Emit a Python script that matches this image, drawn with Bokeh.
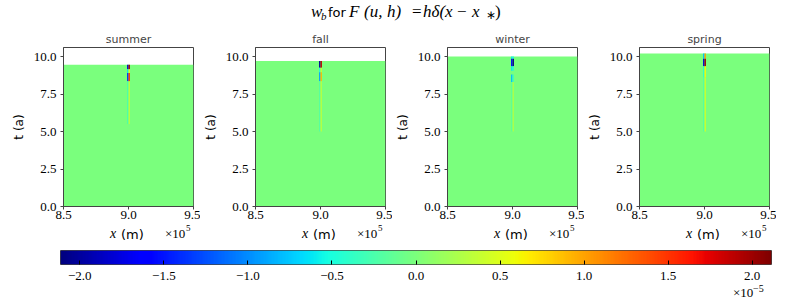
import numpy as np
from bokeh.plotting import figure
from bokeh.layouts import column, row, Spacer
from bokeh.models import (Range1d, LinearColorMapper, CustomJSTickFormatter,
                          ColumnDataSource, FixedTicker, Div)
from bokeh.embed import file_html
from bokeh.resources import INLINE

# ---------------- data ----------------
seasons = ["summer", "fall", "winter", "spring"]
t_end = [9.45, 9.7, 10.0, 10.2]          # last time of each run (a)
x_min, x_max = 8.5e5, 9.5e5              # domain (m)
x_ticks = [8.5e5, 9.0e5, 9.5e5]
t_ticks = [0.0, 2.5, 5.0, 7.5, 10.0]
w_lo, w_hi = -2.115e-5, 2.115e-5
cbar_ticks = [-2e-5, -1.5e-5, -1e-5, -0.5e-5, 0.0, 0.5e-5, 1e-5, 1.5e-5, 2e-5]

# the two cells of the grid next to x_* (left edge, right edge)
cell_left_x = [8.989e5, 9.0e5]
cell_right_x = [9.0e5, 9.011e5]

summer_t0 = [9.15, 8.9, 8.35, 5.5]
summer_t1 = [9.45, 9.15, 8.9, 8.35]
summer_wl = [-1.8e-5, -0.6e-5, -1.4e-5, -0.25e-5]
summer_wr = [2.0e-5, 0.5e-5, 1.5e-5, 0.3e-5]

fall_t0 = [9.25, 8.95, 8.35, 5.0]
fall_t1 = [9.7, 9.25, 8.95, 8.35]
fall_wl = [-2.0e-5, -0.5e-5, -0.9e-5, -0.2e-5]
fall_wr = [1.9e-5, 0.4e-5, 0.9e-5, 0.3e-5]

winter_t0 = [9.85, 9.35, 9.05, 8.3, 5.0]
winter_t1 = [10.0, 9.85, 9.35, 8.8, 8.3]
winter_wl = [-0.6e-5, -1.6e-5, -0.6e-5, -0.8e-5, -0.15e-5]
winter_wr = [-0.5e-5, -2.1e-5, -0.4e-5, -0.3e-5, 0.25e-5]

spring_t0 = [9.85, 9.35, 8.6, 5.0]
spring_t1 = [10.2, 9.85, 9.35, 8.6]
spring_wl = [-0.8e-5, -1.8e-5, -0.4e-5, -0.2e-5]
spring_wr = [1.0e-5, 2.0e-5, 0.6e-5, 0.4e-5]

cells = [(summer_t0, summer_t1, summer_wl, summer_wr),
         (fall_t0, fall_t1, fall_wl, fall_wr),
         (winter_t0, winter_t1, winter_wl, winter_wr),
         (spring_t0, spring_t1, spring_wl, spring_wr)]

# ---------------- jet palette ----------------
def jet(n=256):
    s = np.linspace(0, 1, n)
    r = np.interp(s, [0, 0.35, 0.66, 0.89, 1], [0, 0, 1, 1, 0.5])
    g = np.interp(s, [0, 0.125, 0.375, 0.64, 0.91, 1], [0, 0, 1, 1, 0, 0])
    b = np.interp(s, [0, 0.11, 0.34, 0.65, 1], [0.5, 1, 1, 0, 0])
    return ["#%02x%02x%02x" % (int(round(a * 255)), int(round(c * 255)), int(round(d * 255)))
            for a, c, d in zip(r, g, b)]

palette = jet()
mapper = LinearColorMapper(palette=palette, low=w_lo, high=w_hi)

SERIF = "Liberation Serif"
SANS = "DejaVu Sans"
AX = "#444444"
W = 781
FL, FR = 60, 10

# ---------------- HTML text strips ----------------
def span(x, baseline, s, family, size, style="normal", align="left"):
    top = baseline - 0.84 * size
    pos = f"left:{x}px;" if align == "left" else f"right:{W - x}px;"
    return (f'<span style="position:absolute;{pos}top:{top:.1f}px;'
            f"font-family:'{family}';font-size:{size}px;font-style:{style};"
            f'line-height:1;white-space:nowrap;color:black">{s}</span>')

def text_strip(height, pieces):
    html = (f'<div style="position:relative;width:{W}px;height:{height}px;">'
            + "".join(pieces) + "</div>")
    return Div(text=html, width=W, height=height, margin=0)

# title strip: page y 0..24, baseline at 17
tb = 17
title_div = text_strip(24, [
    span(311, tb, "w", SERIF, 17, "italic"),
    span(321, tb + 3, "b", SERIF, 11, "italic"),
    span(328, tb, "for", SANS, 13),
    span(349, tb, "F", SERIF, 17, "italic"),
    span(364, tb, "(u,", SERIF, 17, "italic"),
    span(387, tb, "h)", SERIF, 17, "italic"),
    span(412, tb, "=", SERIF, 17),
    span(423, tb, "hδ(x", SERIF, 17, "italic"),
    span(457, tb, "−", SERIF, 17),
    span(472, tb, "x", SERIF, 17, "italic"),
    span(486, tb + 2, "∗", SERIF, 12),
    span(495, tb, ")", SERIF, 17),
])

# ---------------- panels (page y 24..224) ----------------
panels = []
for i, name in enumerate(seasons):
    p = figure(width=192, height=200, x_range=Range1d(x_min, x_max), y_range=Range1d(0, 10.6),
               output_backend="svg", toolbar_location=None,
               min_border_left=52, min_border_right=7, min_border_top=23, min_border_bottom=18,
               title=name)
    p.title.align = "center"
    p.title.text_font = SANS
    p.title.text_font_size = "11px"
    p.title.text_font_style = "normal"
    p.title.standoff = 3
    p.grid.visible = False
    p.outline_line_color = AX
    p.outline_line_alpha = 1

    bg = ColumnDataSource(dict(left=[x_min], right=[x_max], bottom=[0.0], top=[t_end[i]], w=[0.0]))
    p.quad(left="left", right="right", bottom="bottom", top="top", source=bg,
           fill_color={"field": "w", "transform": mapper}, line_color=None)

    t0, t1, wl, wr = cells[i]
    n = len(t0)
    src = ColumnDataSource(dict(
        left=[cell_left_x[0]] * n + [cell_right_x[0]] * n,
        right=[cell_left_x[1]] * n + [cell_right_x[1]] * n,
        bottom=list(t0) + list(t0),
        top=list(t1) + list(t1),
        w=list(wl) + list(wr)))
    p.quad(left="left", right="right", bottom="bottom", top="top", source=src,
           fill_color={"field": "w", "transform": mapper}, line_color=None)

    p.xaxis.ticker = FixedTicker(ticks=x_ticks)
    p.xaxis.formatter = CustomJSTickFormatter(code="return (tick/1e5).toFixed(1)")
    p.yaxis.ticker = FixedTicker(ticks=t_ticks)
    p.yaxis.formatter = CustomJSTickFormatter(code="return tick.toFixed(1)")
    for ax in (p.xaxis, p.yaxis):
        ax.major_label_text_font = SERIF
        ax.major_label_text_font_size = "13px"
        ax.major_label_text_color = "black"
        ax.axis_line_color = AX
        ax.major_tick_line_color = AX
        ax.minor_tick_line_color = None
        ax.major_tick_out = 3
        ax.major_tick_in = 0
    p.xaxis.major_label_standoff = 1
    p.yaxis.major_label_standoff = 4
    p.yaxis.axis_label = "t (a)"
    p.yaxis.axis_label_text_font = SANS
    p.yaxis.axis_label_text_font_size = "12px"
    p.yaxis.axis_label_text_font_style = "normal"
    p.yaxis.axis_label_text_color = "black"
    p.yaxis.axis_label_standoff = 5
    panels.append(p)

# ---------------- x-label strip (page y 224..245) ----------------
Y0 = 224
xl_pieces = []
for k in range(4):
    x0 = 60 + 192 * k
    xl_pieces += [
        span(x0 + 50, 239 - Y0, "x", SERIF, 14, "italic"),
        span(x0 + 61, 239 - Y0, "(m)", SANS, 13),
        span(x0 + 105, 238 - Y0, "×10", SERIF, 13),
        span(x0 + 126, 232 - Y0, "5", SERIF, 9),
    ]
xlabel_div = text_strip(21, xl_pieces)

# ---------------- colorbar (page y 245..285) ----------------
cf = figure(width=W, height=40, x_range=Range1d(w_lo, w_hi), y_range=Range1d(0, 1),
            output_backend="svg", toolbar_location=None, title=None,
            min_border_left=FL, min_border_right=FR, min_border_top=5, min_border_bottom=21,
            y_axis_type=None)
cf.grid.visible = False
cf.outline_line_color = AX
grad = np.linspace(w_lo, w_hi, 512).reshape(1, -1)
cf.image(image=[grad], x=w_lo, y=0, dw=w_hi - w_lo, dh=1, color_mapper=mapper)
cf.xaxis.ticker = FixedTicker(ticks=cbar_ticks)
cf.xaxis.formatter = CustomJSTickFormatter(
    code="return (tick*1e5).toFixed(1).replace('-', '\\u2212')")
cf.xaxis.major_tick_in = 4
cf.xaxis.major_tick_out = 0
cf.xaxis.major_tick_line_color = "black"
cf.xaxis.minor_tick_line_color = None
cf.xaxis.axis_line_color = None
cf.xaxis.major_label_text_font = SERIF
cf.xaxis.major_label_text_font_size = "13px"
cf.xaxis.major_label_text_color = "black"
cf.xaxis.major_label_standoff = 7

# ---------------- colorbar exponent strip (page y 285..305) ----------------
Y1 = 285
exp_div = text_strip(20, [
    span(733, 297 - Y1, "×10", SERIF, 13),
    span(753, 292 - Y1, "−5", SERIF, 10),
])

layout = column(title_div, row(Spacer(width=8, height=200), *panels), xlabel_div, cf, exp_div)
open("out.html", "w").write(file_html(layout, INLINE))
